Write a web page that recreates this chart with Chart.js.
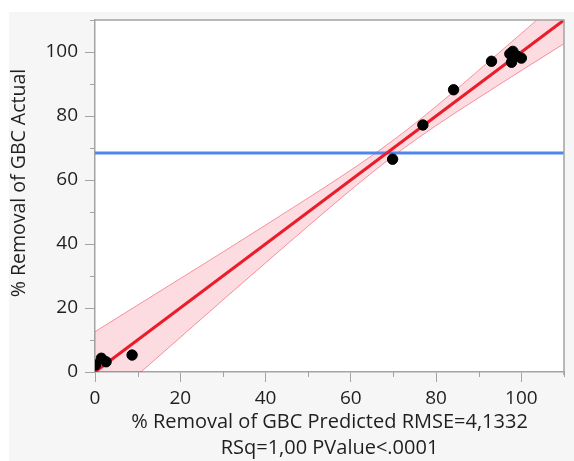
<!DOCTYPE html>
<html>
<head>
<meta charset="utf-8">
<script src="https://cdn.jsdelivr.net/npm/chart.js@4.4.0/dist/chart.umd.min.js"></script>
<style>
  html, body { margin: 0; padding: 0; background: #ffffff; }
  #wrap { width: 574px; height: 461px; position: relative; }
</style>
</head>
<body>
<div id="wrap"><canvas id="fitChart" width="574" height="461"></canvas></div>
<script>
// Datos (Predicted vs Actual)
const predicted = [0.1, 1.5, 2.6, 8.7, 69.8, 76.9, 84.1, 93.0, 97.3, 98.0, 97.7, 100.0, 98.8];
const actual    = [2.2, 4.3, 3.2, 5.3, 66.5, 77.2, 88.2, 97.1, 99.4, 100.2, 96.8, 98.1, 98.9];

// Linea de ajuste y media
const fitX = [0, 110];
const fitY = [0, 110];
const meanY = 68.4;

const bandX     = [0, 10, 20, 30, 40, 50, 60, 70, 80, 90, 100, 110];
const bandUpper = [12.6, 20.9, 29.2, 37.5, 45.9, 54.4, 63.1, 72.5, 83.0, 94.3, 105.8, 117.4];
const bandLower = [-12.6, -0.9, 10.8, 22.5, 34.1, 45.6, 56.9, 67.5, 77.0, 85.7, 94.2, 102.6];

const xTicks = [0, 20, 40, 60, 80, 100];
const yTicks = [0, 20, 40, 60, 80, 100];

const xTitle = ['% Removal of GBC Predicted RMSE=4,1332', 'RSq=1,00 PValue<.0001'];
const yTitle = '% Removal of GBC Actual';

const FONT = '"Open Sans", "Noto Sans", sans-serif';
const AXIS_COLOR = '#a3a3a3';
const TEXT_COLOR = '#1f1f1f';

function toPoints(xs, ys) {
    return xs.map((x, i) => ({ x: x, y: ys[i] }));
}

// Plugin: fondo gris, marco, marcas menores y titulo vertical
const framePlugin = {
    id: 'frame',
    beforeDraw(chart) {
        const c = chart.ctx;
        const a = chart.chartArea;
        c.save();
        c.fillStyle = '#f6f6f6';
        c.fillRect(9, 12, chart.width - 9, chart.height - 12);
        c.fillStyle = '#ffffff';
        c.fillRect(a.left, a.top, a.right - a.left, a.bottom - a.top);
        c.restore();
    },
    afterDraw(chart) {
        const c = chart.ctx;
        const a = chart.chartArea;
        const xs = chart.scales.x, ys = chart.scales.y;
        c.save();
        c.strokeStyle = AXIS_COLOR;
        c.lineWidth = 1.5;
        c.beginPath();
        c.moveTo(a.left, a.top);
        c.lineTo(a.right, a.top);
        c.lineTo(a.right, a.bottom + 3);
        c.stroke();
        // marcas menores
        c.lineWidth = 1;
        for (let v = 10; v <= 110; v += 20) {
            const px = Math.round(xs.getPixelForValue(v)) + 0.5;
            c.beginPath(); c.moveTo(px, a.bottom); c.lineTo(px, a.bottom + 5); c.stroke();
            const py = Math.round(ys.getPixelForValue(v)) + 0.5;
            c.beginPath(); c.moveTo(a.left, py); c.lineTo(a.left - 5, py); c.stroke();
        }
        // titulo del eje y
        c.fillStyle = TEXT_COLOR;
        c.font = '19.5px ' + FONT;
        c.textAlign = 'center';
        c.textBaseline = 'middle';
        c.translate(19, 183);
        c.rotate(-Math.PI / 2);
        c.fillText(yTitle, 0, 0);
        c.restore();
    }
};

const ctx = document.getElementById('fitChart').getContext('2d');
const fitChart = new Chart(ctx, {
    type: 'scatter',
    data: {
        datasets: [
            {
                label: 'Actual',
                data: toPoints(predicted, actual),
                backgroundColor: '#000000',
                borderColor: '#000000',
                pointRadius: 5.2,
                order: 0
            },
            {
                label: 'Fit',
                type: 'line',
                data: toPoints(fitX, fitY),
                borderColor: '#ea1d2c',
                borderWidth: 3,
                pointRadius: 0,
                fill: false,
                order: 1
            },
            {
                label: 'Mean',
                type: 'line',
                data: toPoints(fitX, [meanY, meanY]),
                borderColor: '#4f86ee',
                borderWidth: 3,
                pointRadius: 0,
                fill: false,
                order: 2
            },
            {
                label: 'Upper',
                type: 'line',
                data: toPoints(bandX, bandUpper),
                borderColor: 'rgba(240, 70, 90, 0.55)',
                borderWidth: 1,
                pointRadius: 0,
                cubicInterpolationMode: 'monotone',
                backgroundColor: 'rgba(245, 40, 70, 0.16)',
                fill: '+1',
                order: 3
            },
            {
                label: 'Lower',
                type: 'line',
                data: toPoints(bandX, bandLower),
                borderColor: 'rgba(240, 70, 90, 0.55)',
                borderWidth: 1,
                pointRadius: 0,
                cubicInterpolationMode: 'monotone',
                fill: false,
                order: 4
            }
        ]
    },
    options: {
        responsive: false,
        animation: false,
        layout: { padding: { top: 20, right: 10, left: 0, bottom: 0 } },
        plugins: {
            legend: { display: false },
            tooltip: { enabled: false }
        },
        scales: {
            x: {
                type: 'linear',
                min: 0,
                max: 110,
                afterFit: (s) => { s.height = 89; },
                afterBuildTicks: (s) => { s.ticks = xTicks.map(v => ({ value: v })); },
                ticks: { color: TEXT_COLOR, font: { family: FONT, size: 19 }, padding: 5 },
                grid: { drawOnChartArea: false, tickLength: 10, tickColor: AXIS_COLOR },
                border: { color: AXIS_COLOR, width: 1.5 },
                title: {
                    display: true,
                    text: xTitle,
                    color: TEXT_COLOR,
                    font: { family: FONT, size: 20, lineHeight: 1.3 },
                    padding: { top: 0, bottom: 0 }
                }
            },
            y: {
                type: 'linear',
                min: 0,
                max: 110,
                afterFit: (s) => { s.width = 95; },
                afterBuildTicks: (s) => { s.ticks = yTicks.map(v => ({ value: v })); },
                ticks: { color: TEXT_COLOR, font: { family: FONT, size: 19 }, padding: 7 },
                grid: { drawOnChartArea: false, tickLength: 10, tickColor: AXIS_COLOR },
                border: { color: AXIS_COLOR, width: 1.5 }
            }
        }
    },
    plugins: [framePlugin]
});
</script>
</body>
</html>
